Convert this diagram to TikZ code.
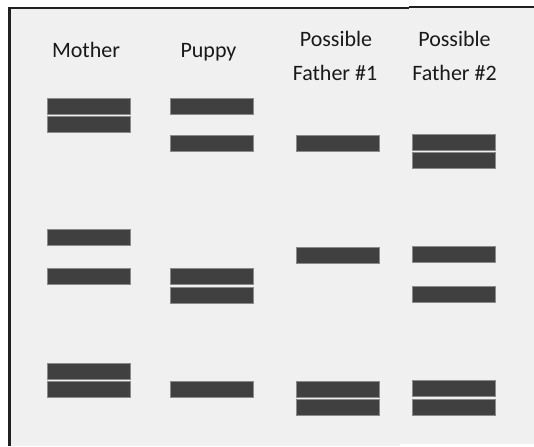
\documentclass[tikz,border=0pt]{standalone}
\usepackage{fontspec}
\setmainfont{Carlito}
\definecolor{gelbg}{HTML}{F0F0F0}
\definecolor{band}{HTML}{404040}
\definecolor{bandedge}{HTML}{8A8A8A}
\definecolor{frame}{HTML}{202020}
\begin{document}
\begin{tikzpicture}[x=1pt,y=-1pt,
  bandbox/.style={rectangle, fill=band, draw=bandedge, line width=0.6pt,
    minimum width=83pt, minimum height=16pt, inner sep=0pt},
  lanelabel/.style={anchor=base, inner sep=0pt, text=black!90,
    font=\fontsize{22}{26}\selectfont}]
  % page and gel area
  \useasboundingbox (0,0) rectangle (534,446);
  \fill[white] (0,0) rectangle (534,446);
  \fill[gelbg] (9,8) rectangle (534,446);
  \fill[white] (400,444) rectangle (534,446);
  % frame lines (top and left only)
  \draw[frame, line width=2.2pt] (8,8) -- (409,8);
  \draw[frame, line width=2pt] (409,7) -- (534,7);
  \draw[frame, line width=2.8pt] (9.5,7) -- (9.5,446);

  % lane labels
  \node[lanelabel] (mother) at (86,57.3) {Mother};
  \node[lanelabel] (puppy) at (208.5,57.3) {Puppy};
  \node[lanelabel] (fa1top) at (336,46.7) {Possible};
  \node[lanelabel] (fa1bot) at (335,81) {Father \#1};
  \node[lanelabel] (fa2top) at (454.5,46.7) {Possible};
  \node[lanelabel] (fa2bot) at (454.5,81) {Father \#2};

  % Mother
  \node[bandbox] (m1) at (88.7,106) {};
  \node[bandbox] (m2) at (88.7,124) {};
  \node[bandbox] (m3) at (88.7,237) {};
  \node[bandbox] (m4) at (88.7,276) {};
  \node[bandbox] (m5) at (88.7,371) {};
  \node[bandbox] (m6) at (88.7,389.7) {};
  % Puppy
  \node[bandbox] (p1) at (212,106) {};
  \node[bandbox] (p2) at (212,143) {};
  \node[bandbox] (p3) at (212,276) {};
  \node[bandbox] (p4) at (212,295) {};
  \node[bandbox] (p5) at (212,389) {};
  % Possible Father #1
  \node[bandbox] (a1) at (338,143) {};
  \node[bandbox] (a2) at (338,255.7) {};
  \node[bandbox] (a3) at (338,389) {};
  \node[bandbox] (a4) at (338,407.7) {};
  % Possible Father #2
  \node[bandbox] (b1) at (454,142.5) {};
  \node[bandbox] (b2) at (454,160.5) {};
  \node[bandbox] (b3) at (454,254.7) {};
  \node[bandbox] (b4) at (454,294) {};
  \node[bandbox] (b5) at (454,388.7) {};
  \node[bandbox] (b6) at (454,407) {};
\end{tikzpicture}
\end{document}
